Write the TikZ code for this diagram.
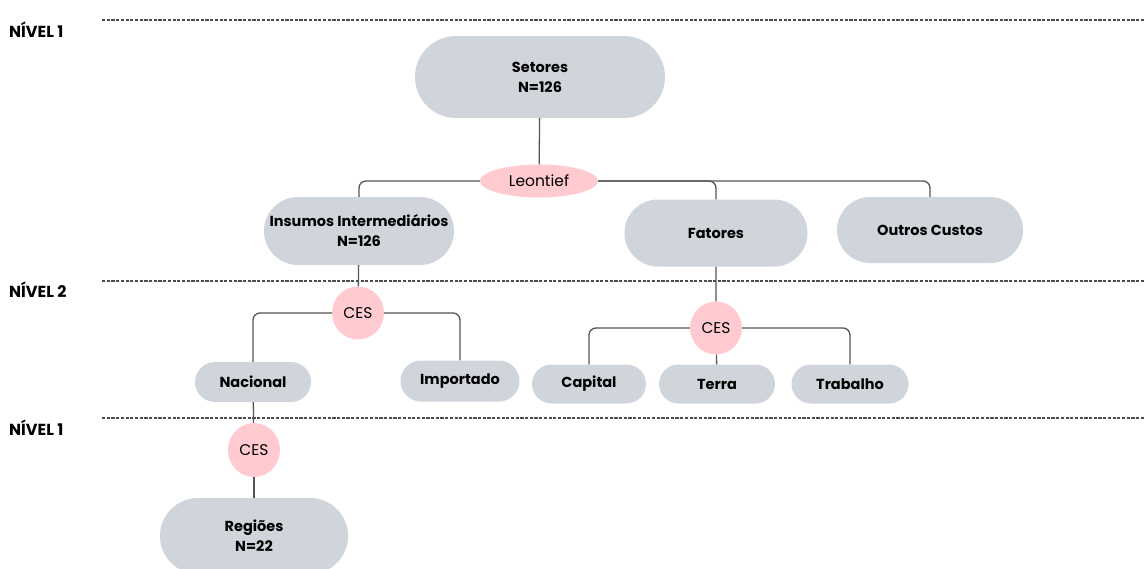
\documentclass[tikz,border=0pt]{standalone}
\usepackage{fontspec}
\setmainfont{Poppins}
\usetikzlibrary{shapes.misc,shapes.geometric}
\definecolor{boxgray}{HTML}{D0D4DB}
\definecolor{cespink}{HTML}{FFCBD0}
\definecolor{linegray}{HTML}{555555}
\begin{document}
\begin{tikzpicture}[
      x=1pt, y=-1pt,
      every node/.style={font=\fontsize{14.5}{20}\selectfont\bfseries, align=center},
      pill/.style={rounded rectangle, fill=boxgray, inner sep=2pt},
      func/.style={ellipse, fill=cespink, inner sep=0pt, font=\fontsize{15.5}{18}\selectfont},
      link/.style={draw=linegray, line width=1.3pt, rounded corners=7pt},
      levelline/.style={draw=black!70, line width=2pt, dash pattern=on 3.2pt off 1.5pt},
      levellabel/.style={anchor=west, inner sep=0pt, font=\fontsize{16}{18}\selectfont\bfseries}
      ]
      \useasboundingbox (0,0) rectangle (1145,568);
      % niveis
      \node[levellabel] (n1a) at (9,30) {NÍVEL 1};
      \node[levellabel] (n2) at (9,290) {NÍVEL 2};
      \node[levellabel] (n1b) at (9,428) {NÍVEL 1};
      \draw[levelline] (102,19.5) -- (1145,19.5);
      \draw[levelline] (102,280.5) -- (1145,280.5);
      \draw[levelline] (102,417.5) -- (1145,417.5);
      % nodes
      \node[pill, minimum width=254pt, minimum height=82pt] (setores) at (540,77) {Setores\\N=126};
      \node[func, minimum width=118pt, minimum height=33pt] (leontief) at (539,181) {Leontief};
      \node[pill, minimum width=194pt, minimum height=68pt] (insumos) at (359,231) {Insumos Intermediários\\N=126};
      \node[pill, minimum width=187pt, minimum height=67pt] (fatores) at (716,233) {Fatores};
      \node[pill, minimum width=190pt, minimum height=66pt] (outros) at (930,230) {Outros Custos};
      \node[func, minimum width=52pt, minimum height=53pt] (ces1) at (358,313) {CES};
      \node[pill, minimum width=120pt, minimum height=40pt] (nacional) at (253,382) {Nacional};
      \node[pill, minimum width=123pt, minimum height=41pt] (importado) at (460,381) {Importado};
      \node[func, minimum width=52pt, minimum height=53pt] (ces2) at (716,328) {CES};
      \node[pill, minimum width=118pt, minimum height=39pt] (capital) at (589,384) {Capital};
      \node[pill, minimum width=120pt, minimum height=39pt] (terra) at (717,384) {Terra};
      \node[pill, minimum width=121pt, minimum height=39pt] (trabalho) at (850,384) {Trabalho};
      \node[func, minimum width=52pt, minimum height=54pt] (ces3) at (254,450) {CES};
      \node[pill, minimum width=192pt, minimum height=76pt] (regioes) at (254,536) {Regiões\\N=22};
      % connectors
      \draw[link] (setores) -- (leontief);
      \draw[link] (leontief) -| (insumos);
      \draw[link] (leontief) -| (fatores);
      \draw[link] (leontief) -| (outros);
      \draw[link] (insumos) -- (ces1);
      \draw[link] (ces1) -| (nacional);
      \draw[link] (ces1) -| (importado);
      \draw[link] (fatores) -- (ces2);
      \draw[link] (ces2) -| (capital);
      \draw[link] (ces2) -- (terra);
      \draw[link] (ces2) -| (trabalho);
      \draw[link] (nacional) -- (ces3);
      \draw[link] (ces3) -- (regioes);
    \end{tikzpicture}
\end{document}
